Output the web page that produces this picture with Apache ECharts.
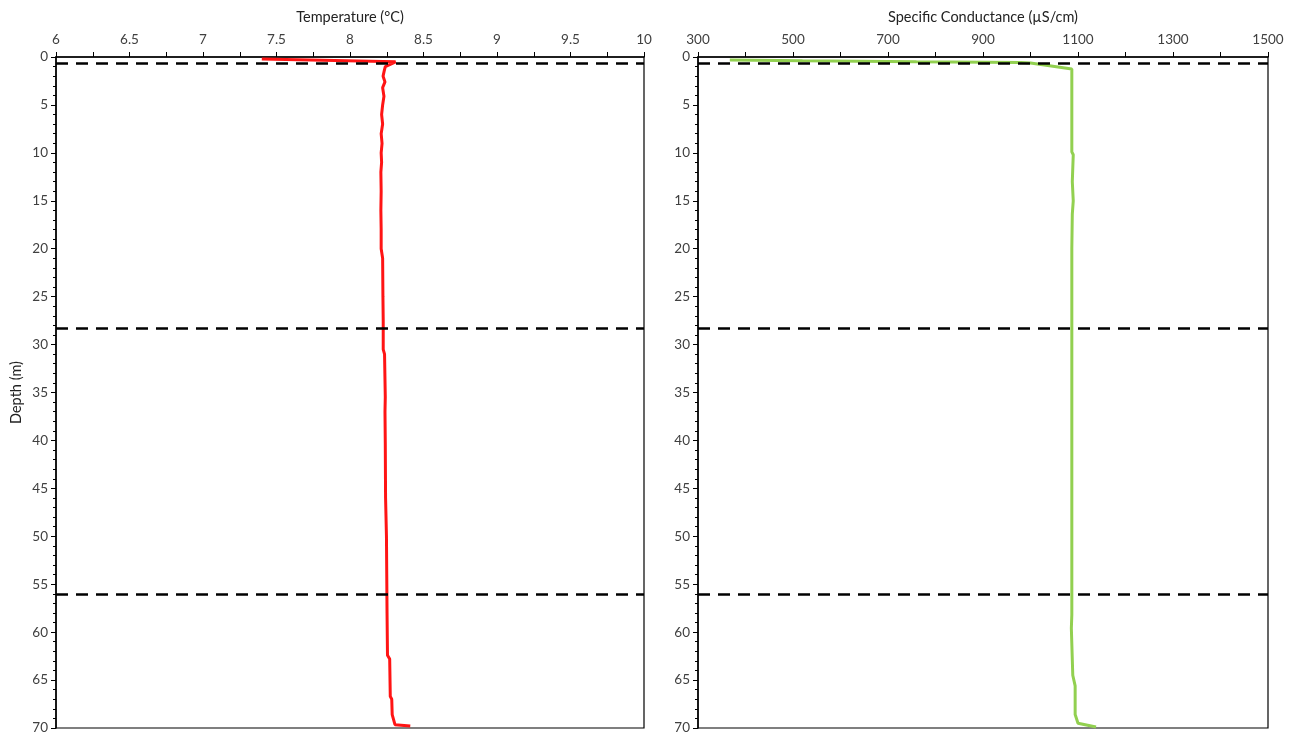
<!DOCTYPE html>
<html>
<head>
<meta charset="utf-8">
<title>Depth profiles</title>
<script src="https://cdn.jsdelivr.net/npm/echarts@6/dist/echarts.min.js"></script>
<style>
  html, body { margin: 0; padding: 0; background: #fff; }
  #chart { width: 1290px; height: 735px; }
</style>
</head>
<body>
<div id="chart"></div>
<script>
// Temperature profile (depth in m, temperature in °C)
const tempDepth = [0.2, 0.5, 0.8, 1.0, 1.5, 2.0, 2.6, 3.2, 4.1, 5.0, 6.0, 7.0, 8.0, 9.0, 10, 11, 12, 14, 16, 18, 20, 21, 25, 27.5, 30.5, 31, 35.5, 37, 40.2, 46, 50, 54, 58, 62.4, 62.8, 66.7, 67.0, 68.6, 69.65, 69.8];
const tempValues = [7.40, 8.31, 8.27, 8.24, 8.232, 8.225, 8.238, 8.222, 8.231, 8.222, 8.215, 8.222, 8.212, 8.218, 8.212, 8.215, 8.21, 8.212, 8.21, 8.212, 8.212, 8.222, 8.224, 8.226, 8.226, 8.235, 8.24, 8.238, 8.24, 8.242, 8.248, 8.25, 8.252, 8.255, 8.27, 8.274, 8.284, 8.287, 8.306, 8.41];

// Specific conductance profile (depth in m, µS/cm)
const condDepth = [0.3, 0.4, 0.5, 0.58, 0.62, 1.25, 5, 9.9, 10.2, 13, 15, 16.4, 20, 28, 40, 50, 58.2, 59.6, 64.5, 65.6, 68.6, 69.5, 69.9];
const condValues = [367, 520, 760, 980, 1000, 1087, 1087, 1087, 1090, 1088, 1090, 1088, 1087, 1087, 1087, 1087, 1087, 1086, 1089, 1094, 1094, 1100, 1138];

// Layer boundaries drawn as dashed lines (depth in m)
const boundaryDepths = [0.6, 28.3, 56.0];

// Axis ranges: [min, max, interval]
const depthRange = [0, 70, 5];
const tempRange = [6, 10, 0.5];
const condRange = [300, 1500, 200];

const FONT = 'Lato';
const LABEL_COLOR = '#404040';
const plain = v => String(v);

function pairs(xs, ys) {
  return xs.map((d, i) => [ys[i], d]);
}

function xAxisFor(gridIndex, range, name) {
  return {
    type: 'value', gridIndex, position: 'top',
    min: range[0], max: range[1], interval: range[2],
    name, nameLocation: 'middle', nameGap: 32,
    nameTextStyle: { fontFamily: FONT, fontSize: 14.5, color: '#222' },
    axisLine: { show: true, onZero: false, lineStyle: { color: '#000', width: 1.5 } },
    axisTick: { show: true, length: 5, lineStyle: { color: '#000' } },
    minorTick: { show: true, splitNumber: 2, length: 5, lineStyle: { color: '#000' } },
    axisLabel: { fontFamily: FONT, fontSize: 13.5, color: LABEL_COLOR, margin: 10, formatter: plain },
    splitLine: { show: false }
  };
}

function yAxisFor(gridIndex, withName) {
  return {
    type: 'value', gridIndex, inverse: true,
    min: depthRange[0], max: depthRange[1], interval: depthRange[2],
    name: withName ? 'Depth (m)' : '', nameLocation: 'middle', nameGap: 32,
    nameTextStyle: { fontFamily: FONT, fontSize: 14.5, color: '#222' },
    axisLine: { show: true, onZero: false, lineStyle: { color: '#000', width: 1.5 } },
    axisTick: { show: true, length: 5, lineStyle: { color: '#000' } },
    minorTick: { show: true, splitNumber: 5, length: 3, lineStyle: { color: '#000' } },
    axisLabel: { fontFamily: FONT, fontSize: 13.5, color: LABEL_COLOR, margin: 8, formatter: plain },
    splitLine: { show: false }
  };
}

function boundaries() {
  return {
    silent: true,
    symbol: ['none', 'none'],
    label: { show: false },
    lineStyle: { color: '#000', width: 2.5, type: [12, 8] },
    data: boundaryDepths.map(d => ({ yAxis: d }))
  };
}

const chart = echarts.init(document.getElementById('chart'), null, { renderer: 'canvas' });
chart.setOption({
  animation: false,
  backgroundColor: '#fff',
  grid: [
    { left: 56, top: 57, width: 588, height: 673, show: true, borderColor: '#000', borderWidth: 1.2, backgroundColor: 'transparent' },
    { left: 698, top: 57, width: 570, height: 673, show: true, borderColor: '#000', borderWidth: 1.2, backgroundColor: 'transparent' }
  ],
  xAxis: [
    xAxisFor(0, tempRange, 'Temperature (°C)'),
    xAxisFor(1, condRange, 'Specific Conductance (µS/cm)')
  ],
  yAxis: [yAxisFor(0, true), yAxisFor(1, false)],
  series: [
    {
      type: 'line', xAxisIndex: 0, yAxisIndex: 0,
      data: pairs(tempDepth, tempValues),
      showSymbol: false, symbol: 'none',
      lineStyle: { color: '#ff1414', width: 3 },
      markLine: boundaries()
    },
    {
      type: 'line', xAxisIndex: 1, yAxisIndex: 1,
      data: pairs(condDepth, condValues),
      showSymbol: false, symbol: 'none',
      lineStyle: { color: '#92d050', width: 3 },
      markLine: boundaries()
    }
  ]
});
</script>
</body>
</html>
